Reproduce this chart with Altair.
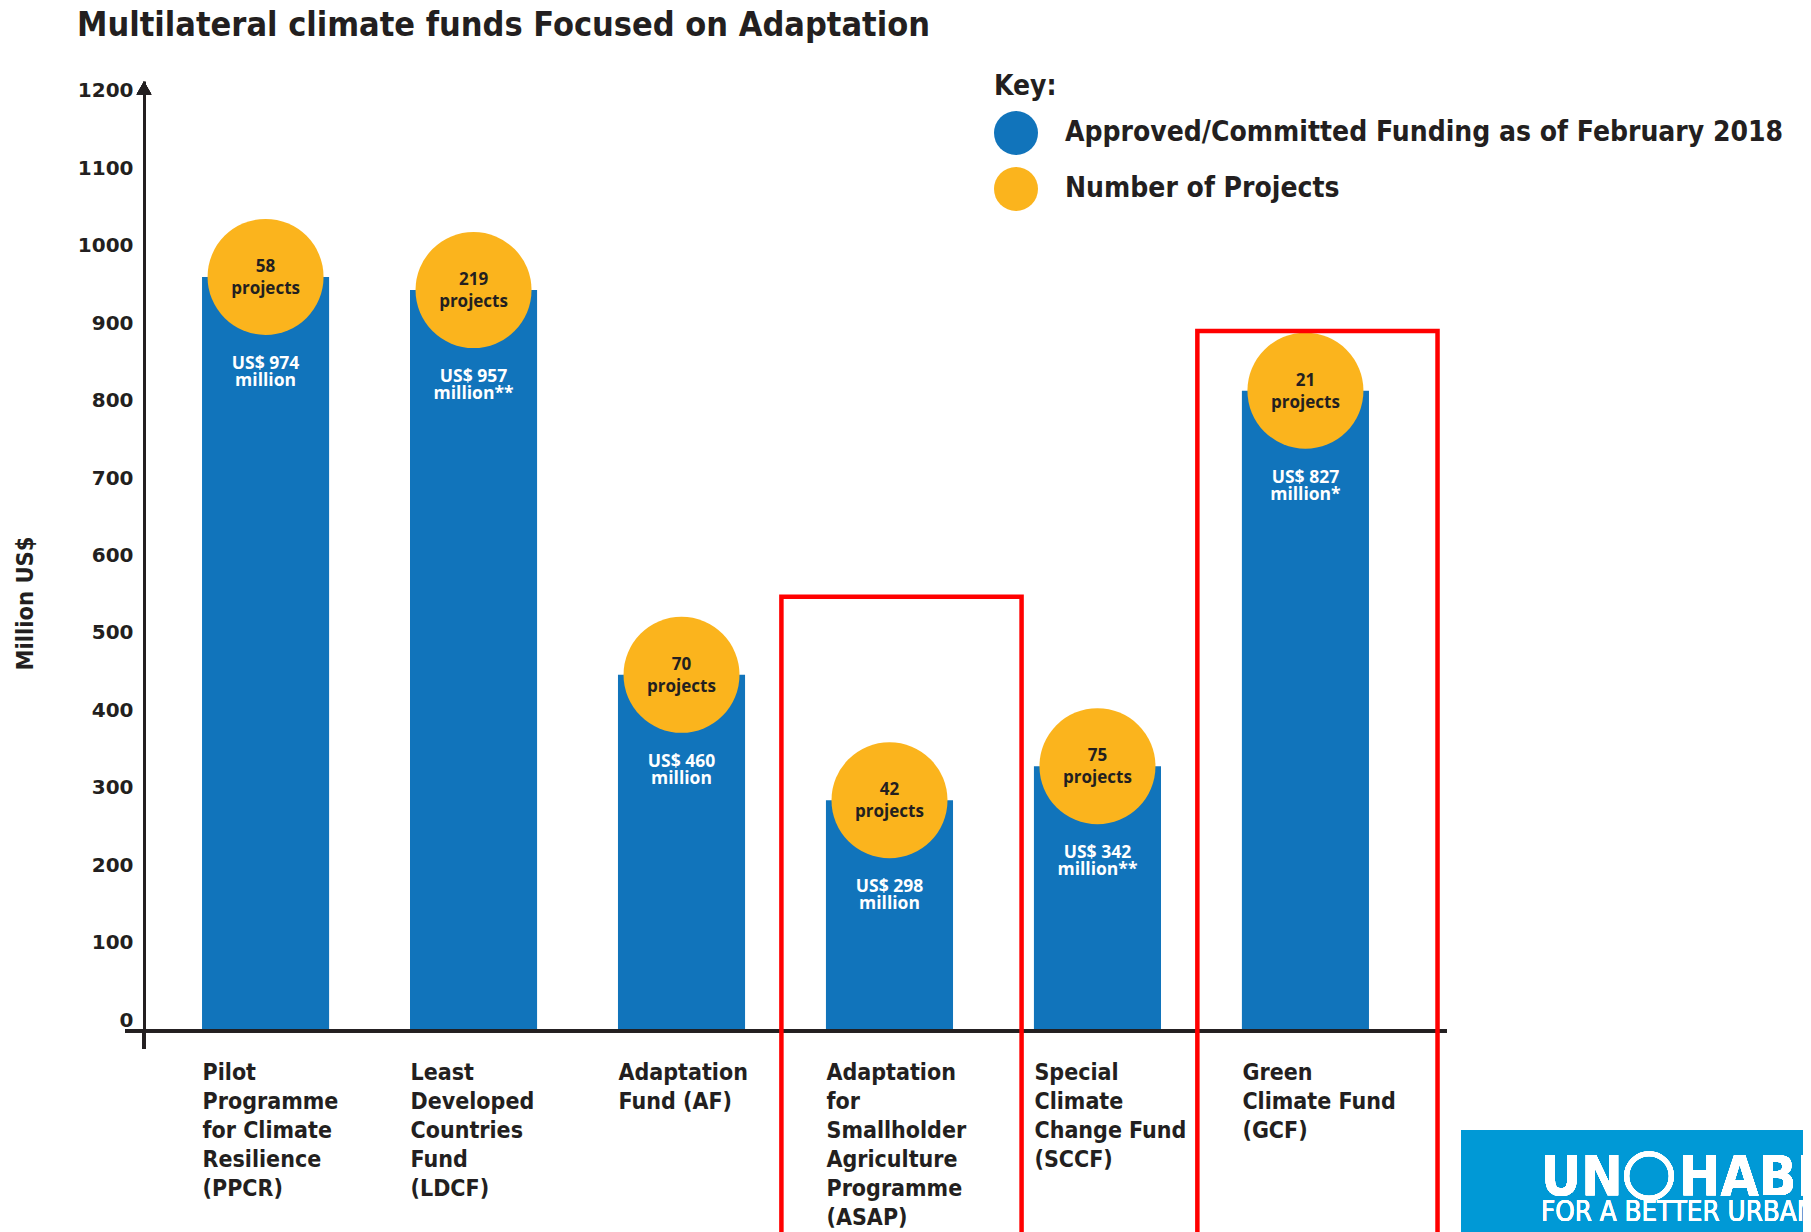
import altair as alt
import pandas as pd

# ---------------- data ----------------
categories = [
    "Pilot|Programme|for Climate|Resilience|(PPCR)",
    "Least|Developed|Countries|Fund|(LDCF)",
    "Adaptation|Fund (AF)",
    "Adaptation|for|Smallholder|Agriculture|Programme|(ASAP)",
    "Special|Climate|Change Fund|(SCCF)",
    "Green|Climate Fund|(GCF)",
]
funding = [974, 957, 460, 298, 342, 827]
projects = [58, 219, 70, 42, 75, 21]
footnotes = ["", "**", "", "", "**", "*"]
highlighted = [categories[3], categories[5]]
highlight_top = [561, 904]
highlight_bottom = [-320, -320]
y_ticks = [0, 100, 200, 300, 400, 500, 600, 700, 800, 900, 1000, 1100, 1200]
series_names = ["Approved/Committed Funding as of February 2018", "Number of Projects"]

BLUE = "#1174BB"
ORANGE = "#FBB41D"
DARK = "#231F20"
RED = "#FF0000"
LOGO = "#0099D6"
NARROW = "DejaVu Sans Condensed, DejaVu Sans, sans-serif"
WIDE = "DejaVu Sans, Verdana, sans-serif"
INBAR = "Open Sans, DejaVu Sans Condensed, sans-serif"

W, H = 1283, 950

df = pd.DataFrame({
    "cat": categories,
    "value": funding,
    "projects": projects,
    "note": footnotes,
})
df["count"] = df["projects"].astype(str)
df["line1"] = "US$ " + df["value"].astype(str)
df["line2"] = "million" + df["note"]
df["s_fund"] = series_names[0]
df["s_proj"] = series_names[1]

hl = pd.DataFrame({"cat": highlighted, "top": highlight_top, "bottom": highlight_bottom})

xenc = alt.X(
    "cat:N",
    sort=categories,
    scale=alt.Scale(paddingInner=0.389, paddingOuter=0.279),
    axis=alt.Axis(
        title=None,
        domain=False,
        ticks=False,
        labelAngle=0,
        labelAlign="left",
        labelBaseline="top",
        labelOffset=-63,
        labelPadding=30,
        labelExpr="split(datum.label, '|')",
        labelFont=NARROW,
        labelFontWeight="bold",
        labelFontSize=23,
        labelLineHeight=29,
        labelColor=DARK,
    ),
)
ysc = alt.Scale(domain=[0, 1227], nice=False)
xs = alt.X("cat:N", sort=categories)
ys = alt.Y("value:Q", scale=ysc)

color_scale = alt.Scale(domain=series_names, range=[BLUE, ORANGE])

base = alt.Chart(df)

bars = base.mark_bar().encode(
    x=xenc,
    y=alt.Y(
        "value:Q",
        scale=ysc,
        axis=alt.Axis(
            values=y_ticks,
            format="d",
            grid=False,
            ticks=False,
            domainColor=DARK,
            domainWidth=3,
            labelFont=WIDE,
            labelFontWeight="bold",
            labelFontSize=20,
            labelColor=DARK,
            labelPadding=11,
            labelOffset=-11,
            title="Million US$",
            titleFont=NARROW,
            titleFontWeight="bold",
            titleFontSize=23.5,
            titleColor=DARK,
            titleX=-119,
            titleY=522,
            titleAngle=-90,
            titleAlign="center",
            titleBaseline="middle",
        ),
    ),
    color=alt.Color(
        "s_fund:N",
        scale=color_scale,
        legend=alt.Legend(
            title="Key:",
            orient="none",
            legendX=850,
            legendY=-8,
            symbolType="circle",
            symbolSize=1936,
            symbolStrokeWidth=0,
            symbolOpacity=1,
            titleFont=NARROW,
            titleFontWeight="bold",
            titleFontSize=28,
            titleColor=DARK,
            titlePadding=10,
            labelFont=NARROW,
            labelFontWeight="bold",
            labelFontSize=28,
            labelColor=DARK,
            labelOffset=27,
            rowPadding=12,
            labelLimit=900,
        ),
    ),
)

circles = base.mark_circle(size=13456, opacity=1).encode(
    x=xs, y=ys, color=alt.Color("s_proj:N", scale=color_scale),
)

t_count = base.mark_text(font=INBAR, fontWeight="bold", fontSize=17, color=DARK, dy=-10).encode(
    x=xs, y=ys, text="count:N"
)
t_proj = base.mark_text(font=INBAR, fontWeight="bold", fontSize=17, color=DARK, dy=12).encode(
    x=xs, y=ys, text=alt.value("projects")
)
t_val1 = base.mark_text(font=INBAR, fontWeight="bold", fontSize=17.5, color="white", dy=87).encode(
    x=xs, y=ys, text="line1:N"
)
t_val2 = base.mark_text(font=INBAR, fontWeight="bold", fontSize=17.5, color="white", dy=104).encode(
    x=xs, y=ys, text="line2:N"
)

baseline = alt.Chart(df).mark_rule(color=DARK, strokeWidth=3).encode(
    x=alt.value(-19), x2=alt.value(W + 20), y=alt.value(H)
)
yext = alt.Chart(df).mark_rule(color=DARK, strokeWidth=3).encode(
    x=alt.value(0), y=alt.value(H), y2=alt.value(H + 18)
)
arrow = alt.Chart(df).mark_point(shape="triangle-up", filled=True, size=220, color=DARK, opacity=1).encode(
    x=alt.value(0), y=alt.value(7)
)

boxes = alt.Chart(hl).mark_bar(
    fill="transparent", stroke=RED, strokeWidth=4.5, width=alt.RelativeBandSize(1.89), xOffset=12
).encode(
    x=alt.X("cat:N", sort=categories),
    y=alt.Y("top:Q", scale=ysc),
    y2="bottom:Q",
)

logo_rect = alt.Chart(df).mark_rect(color=LOGO).encode(
    x=alt.value(1317), x2=alt.value(1720), y=alt.value(1049), y2=alt.value(1300)
)
logo_un = alt.Chart(df).mark_text(
    text="UN", font=NARROW, fontWeight="bold", fontSize=55, color="white", align="left", baseline="middle"
).encode(x=alt.value(1397), y=alt.value(1097))
logo_emb = alt.Chart(df).mark_point(shape="circle", size=2000, stroke="white", strokeWidth=5, opacity=1).encode(
    x=alt.value(1505), y=alt.value(1095)
)
logo_hab = alt.Chart(df).mark_text(
    text="HABITAT", font=NARROW, fontWeight="bold", fontSize=55, color="white", align="left", baseline="middle"
).encode(x=alt.value(1535), y=alt.value(1097))
logo_sub = alt.Chart(df).mark_text(
    text="FOR A BETTER URBAN FUTURE", font=NARROW, fontSize=27.5, color="white", align="left", baseline="middle"
).encode(x=alt.value(1397), y=alt.value(1132))

chart = alt.layer(
    bars, circles, t_count, t_proj, t_val1, t_val2,
    baseline, yext, arrow, boxes,
    logo_rect, logo_un, logo_emb, logo_hab, logo_sub,
).properties(
    width=W,
    height=H,
    title=alt.TitleParams(
        "Multilateral climate funds Focused on Adaptation",
        anchor="start",
        frame="group",
        dx=-67,
        dy=-26,
        font=NARROW,
        fontWeight="bold",
        fontSize=34,
        color=DARK,
    ),
    autosize=alt.AutoSizeParams(type="none"),
    padding={"left": 136, "top": 73, "right": 376, "bottom": 201},
).configure_view(strokeWidth=0).configure_axis(labelOverlap=False)

chart.save("out.html", embed_options={"renderer": "svg", "actions": False})
